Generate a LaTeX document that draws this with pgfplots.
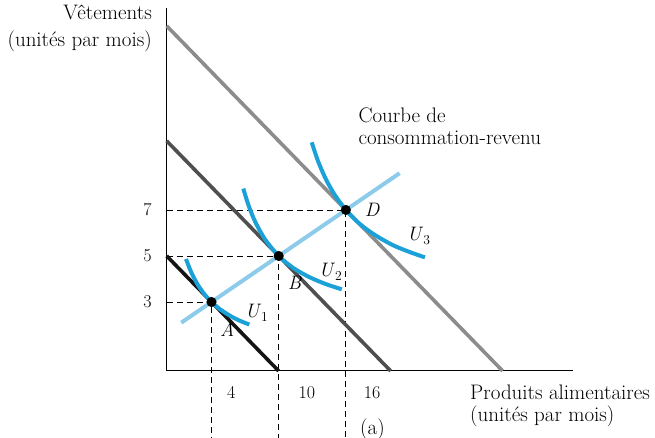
\documentclass[border=0pt]{standalone}
\usepackage{fontspec}
\usepackage{pgfplots}
\pgfplotsset{compat=1.18}
\definecolor{ublue}{HTML}{1BA0D7}
\definecolor{lblue}{HTML}{8DCBEA}
\definecolor{bla}{HTML}{141414}
\definecolor{blb}{HTML}{4F4F4F}
\definecolor{blc}{HTML}{8C8C8C}
\newcommand{\txt}{\fontsize{21}{25}\selectfont}
\newcommand{\tck}{\fontsize{18}{22}\selectfont}
\newcommand{\lbl}{\fontsize{19.5}{23}\selectfont}
\begin{document}
\begin{tikzpicture}[x=1pt,y=1pt]
\useasboundingbox (0,0) rectangle (655,438);
\begin{axis}[
  at={(166.7pt,67pt)}, anchor=south west,
  scale only axis, width=406.3pt, height=363pt,
  xmin=0, xmax=36.28, ymin=0, ymax=15.78,
  axis lines=left, axis line style={-, line width=1pt, black},
  xtick=\empty, ytick=\empty, clip=false,
  every node/.style={inner sep=0pt},
]
% dashed guide lines
\addplot[black, line width=0.8pt, dash pattern=on 6pt off 4pt] coordinates {(0,3) (4,3) (4,-2.95)};
\addplot[black, line width=0.8pt, dash pattern=on 6pt off 4pt] coordinates {(0,5) (10,5) (10,-2.95)};
\addplot[black, line width=0.8pt, dash pattern=on 6pt off 4pt] coordinates {(0,7) (16,7) (16,-2.95)};
% budget lines
\addplot[blc, line width=3.6pt] coordinates {(0,15) (30,0)};
\addplot[blb, line width=3.6pt] coordinates {(0,10) (20,0)};
\addplot[bla, line width=3.6pt] coordinates {(0,5) (10,0)};
% income-consumption curve
\addplot[lblue, line width=4pt] coordinates {(1.3,2.1) (20.8,8.6)};
% indifference curves
\addplot[ublue, line width=4pt, smooth] coordinates {(1.72,4.87) (2.2,4.28) (2.8,3.73) (3.4,3.32) (4,3) (4.8,2.67) (5.8,2.36) (6.6,2.17) (7.38,2.02)};
\addplot[ublue, line width=4pt, smooth] coordinates {(6.84,7.93) (7.3,7.21) (7.9,6.49) (8.8,5.71) (10,5) (11.3,4.48) (12.7,4.09) (14.2,3.78) (15.63,3.55)};
\addplot[ublue, line width=4pt, smooth] coordinates {(12.95,9.94) (13.5,9.14) (14.2,8.35) (15,7.66) (16,7) (17.2,6.41) (18.6,5.91) (20.2,5.47) (21.7,5.17) (23.06,4.94)};
% points
\addplot[only marks, mark=*, mark size=4.8pt, black] coordinates {(4,3) (10,5) (16,7)};
% tick labels
\node[anchor=east, font=\tck] at (axis cs:0,3) [xshift=-11.5pt] {3};
\node[anchor=east, font=\tck] at (axis cs:0,5) [xshift=-11.5pt] {5};
\node[anchor=east, font=\tck] at (axis cs:0,7) [xshift=-11.5pt] {7};
\node[anchor=base west, font=\tck] at (axis cs:4,0) [xshift=12pt, yshift=-27.3pt] {4};
\node[anchor=base west, font=\tck] at (axis cs:10,0) [xshift=16.5pt, yshift=-27.3pt] {10};
\node[anchor=base west, font=\tck] at (axis cs:16,0) [xshift=14.5pt, yshift=-27.3pt] {16};
% point labels
\node[anchor=base west, font=\lbl] at (axis cs:4,3) [xshift=5pt, yshift=-34.3pt] {\textit{A}};
\node[anchor=base west, font=\lbl] at (axis cs:10,5) [xshift=5.7pt, yshift=-33.7pt] {\textit{B}};
\node[anchor=base west, font=\lbl] at (axis cs:16,7) [xshift=15.4pt, yshift=-6.7pt] {\textit{D}};
\node[anchor=base west, font=\lbl] at (axis cs:4,3) [xshift=30pt, yshift=-16pt] {\textit{U}\textsubscript{1}};
\node[anchor=base west, font=\lbl] at (axis cs:10,5) [xshift=36.7pt, yshift=-21pt] {\textit{U}\textsubscript{2}};
\node[anchor=base west, font=\lbl] at (axis cs:16,7) [xshift=57.7pt, yshift=-31pt] {\textit{U}\textsubscript{3}};
\end{axis}
% axis titles and annotations
\begin{scope}[every node/.style={inner sep=0pt, font=\txt}]
\node[anchor=base east] at (152,418) {Vêtements};
\node[anchor=base east] at (152,391.3) {(unités par mois)};
\node[anchor=base west] at (470,38) {Produits alimentaires};
\node[anchor=base west] at (470,16.3) {(unités par mois)};
\node[anchor=base west] at (358.3,315.3) {Courbe de};
\node[anchor=base west] at (358.3,293) {consommation-revenu};
\node[anchor=base west] at (360,3) {(a)};
\end{scope}
\end{tikzpicture}
\end{document}
